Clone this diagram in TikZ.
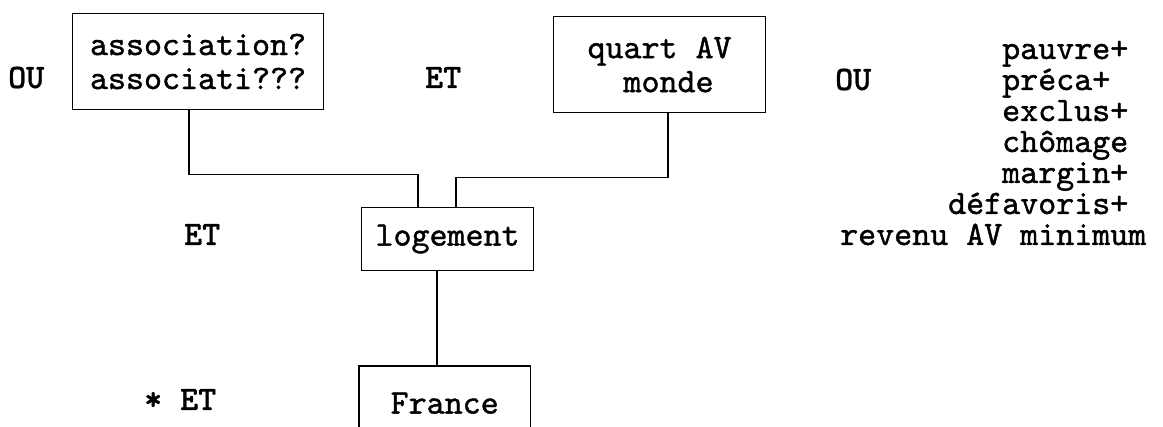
\documentclass[tikz,border=0pt]{standalone}
\usepackage{fontspec}
\newfontfamily\tw{lmmono10-regular.otf}[FakeBold=1.2]
\newfontfamily\twb{lmmonolt10-bold.otf}[FakeBold=0.6]
\begin{document}
\begin{tikzpicture}[x=1pt,y=-1pt,
  every node/.style={font=\tw\fontsize{34.3}{34}\selectfont, inner sep=0pt},
  box/.style={draw, line width=1.1pt, anchor=north west, align=left},
  wire/.style={line width=1.1pt},
  op/.style={anchor=base west, font=\twb\fontsize{34.3}{34}\selectfont},
  lbl/.style={anchor=base west}]
\useasboundingbox (0,0) rectangle (1163,427);
\fill[white] (0,0) rectangle (1163,427);
% boxes
\node[box, minimum width=251pt, minimum height=96pt] (assoc) at (72,13) {association?\\associati???};
\node[box, minimum width=212pt, minimum height=96pt] (quart) at (553,16) {quart AV\\\hphantom{xx}monde};
\node[box, minimum width=172pt, minimum height=63pt] (lodg) at (361,207) {logement};
\node[anchor=north west, minimum width=171pt, minimum height=74pt] (fr) at (359,366) {France};
\coordinate (pagebottom) at (0,427);
\draw[wire] (fr.north west |- pagebottom) -- (fr.north west) -- (fr.north east) -- (fr.north east |- pagebottom);
% connectors
\coordinate (aout) at ([xshift=117pt]assoc.south west);
\coordinate (qout) at ([xshift=115pt]quart.south west);
\coordinate (lin1) at ([xshift=57pt]lodg.north west);
\coordinate (lin2) at ([xshift=95pt]lodg.north west);
\coordinate (lout) at ([xshift=76pt]lodg.south west);
\draw[wire] (aout) -- ++(0,64) -| (lin1);
\draw[wire] (qout) -- ++(0,64) -| (lin2);
\draw[wire] (lout) -- (lout |- fr.north);
% operators
\node[op] (ou1) at (8,88) {OU};
\node[op] (et1) at (425,88) {ET};
\node[op] (ou2) at (835,90) {OU};
\node[op] (et2) at (184,245) {ET};
\node[op] (et3) at (144,410) {* ET};
% term list
\node[lbl] (t1) at (1002,59) {pauvre+};
\node[lbl] (t2) at (1002,90) {préca+};
\node[lbl] (t3) at (1002,121) {exclus+};
\node[lbl] (t4) at (1002,152) {chômage};
\node[lbl] (t5) at (1002,183) {margin+};
\node[lbl] (t6) at (948,214) {défavoris+};
\node[lbl] (t7) at (840,245) {revenu AV minimum};
\end{tikzpicture}
\end{document}
